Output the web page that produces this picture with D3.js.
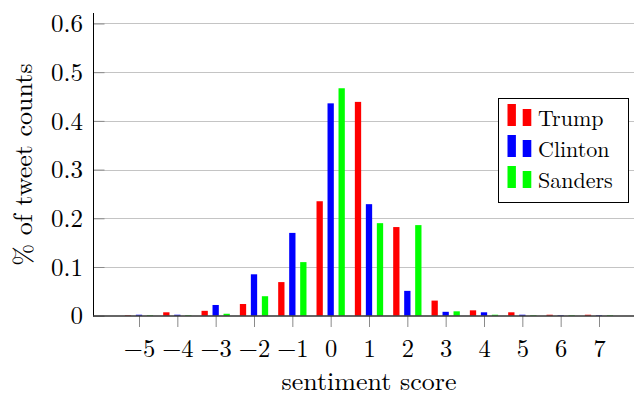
<!DOCTYPE html>
<html>
<head>
<meta charset="utf-8">
<script src="https://cdn.jsdelivr.net/npm/d3@7"></script>
<style>
  html, body { margin: 0; padding: 0; background: #fff; }
  svg { display: block; }
</style>
</head>
<body>
<svg id="chart" width="634" height="395"></svg>
<script>
// Sentiment score categories
const scores = [-5, -4, -3, -2, -1, 0, 1, 2, 3, 4, 5, 6, 7];

// Share of tweets per sentiment score, one array per candidate
const trump   = [0.001, 0.007, 0.010, 0.024, 0.069, 0.235, 0.439, 0.182, 0.031, 0.011, 0.007, 0.002, 0.002];
const clinton = [0.002, 0.002, 0.022, 0.085, 0.170, 0.436, 0.229, 0.051, 0.008, 0.007, 0.002, 0.001, 0.001];
const sanders = [0.001, 0.001, 0.004, 0.040, 0.110, 0.467, 0.190, 0.186, 0.009, 0.002, 0.001, 0.001, 0.001];

const seriesNames  = ["Trump", "Clinton", "Sanders"];
const seriesColors = ["#ff0000", "#0000ff", "#00ff00"];
const seriesValues = [trump, clinton, sanders];

const yTicks = [0, 0.1, 0.2, 0.3, 0.4, 0.5, 0.6];

const FONT = '"Latin Modern Roman", "CMU Serif", "Liberation Serif", serif';

const svg = d3.select("#chart");

// Plot area
const plotLeft = 93, plotRight = 645, plotTop = 13, plotBottom = 315.7;

const x = d3.scaleLinear().domain([-6.2, 8.2]).range([plotLeft, plotRight]);
const y = d3.scaleLinear().domain([0, 0.6215]).range([plotBottom, plotTop]);

const barW = 6.3;     // bar width in px
const barStep = 11;   // distance between bars of one group in px

// Horizontal grid lines
svg.append("g")
  .selectAll("line")
  .data(yTicks.filter(d => d > 0))
  .join("line")
  .attr("x1", plotLeft).attr("x2", 634)
  .attr("y1", d => Math.round(y(d)) + 0.5)
  .attr("y2", d => Math.round(y(d)) + 0.5)
  .attr("stroke", "#c4c4c4")
  .attr("stroke-width", 1);

// Bars
seriesValues.forEach((vals, i) => {
  svg.append("g")
    .selectAll("rect")
    .data(scores.map((s, k) => ({ s, v: vals[k] })))
    .join("rect")
    .attr("x", d => x(d.s) + (i - 1) * barStep - barW / 2)
    .attr("width", barW)
    .attr("y", d => y(d.v))
    .attr("height", d => y(0) - y(d.v))
    .attr("fill", seriesColors[i]);
});

// Y axis: tick marks inside, labels to the left
const yAxis = d3.axisLeft(y)
  .tickValues(yTicks)
  .tickSize(-11)
  .tickPadding(10.5)
  .tickFormat(d => d === 0 ? "0" : d3.format(".1f")(d));

const gy = svg.append("g")
  .attr("transform", `translate(${plotLeft + 0.5},0)`)
  .call(yAxis);
gy.select(".domain").remove();
gy.selectAll(".tick line").attr("stroke", "#8a8a8a");
gy.selectAll(".tick text")
  .style("font-family", FONT)
  .style("font-size", "25px")
  .attr("fill", "#000")
  .attr("dy", "0.33em");

// X axis: tick marks below the axis line
const xAxis = d3.axisBottom(x)
  .tickValues(scores)
  .tickSize(11)
  .tickPadding(10)
  .tickFormat(d => d < 0 ? "\u2212" + Math.abs(d) : String(d));

const gx = svg.append("g")
  .attr("transform", `translate(0,${316})`)
  .call(xAxis);
gx.select(".domain").remove();
gx.selectAll(".tick line").attr("stroke", "#8a8a8a");
gx.selectAll(".tick text")
  .style("font-family", FONT)
  .style("font-size", "24.5px")
  .attr("fill", "#000")
  .attr("dy", "0.81em");

// Axis lines
svg.append("line")
  .attr("x1", plotLeft + 0.5).attr("x2", plotLeft + 0.5)
  .attr("y1", plotTop).attr("y2", 316.5)
  .attr("stroke", "#000").attr("stroke-width", 1);
svg.append("line")
  .attr("x1", plotLeft).attr("x2", 634)
  .attr("y1", 316).attr("y2", 316)
  .attr("stroke", "#333").attr("stroke-width", 1.3);

// Axis titles
svg.append("text")
  .attr("x", (plotLeft + plotRight) / 2)
  .attr("y", 390)
  .attr("text-anchor", "middle")
  .style("font-family", FONT)
  .style("font-size", "26px")
  .text("sentiment score");

svg.append("text")
  .attr("transform", `translate(32,${(plotTop + 316) / 2}) rotate(-90)`)
  .attr("text-anchor", "middle")
  .style("font-family", FONT)
  .style("font-size", "26px")
  .text("% of tweet counts");

// Legend
const legend = svg.append("g").attr("transform", "translate(498.5,98.5)");
legend.append("rect")
  .attr("width", 130).attr("height", 104)
  .attr("fill", "#fff")
  .attr("stroke", "#000").attr("stroke-width", 1);

seriesNames.forEach((name, i) => {
  const base = 27.5 + i * 31;
  const row = legend.append("g");
  row.append("rect")
    .attr("x", 9).attr("y", base - 22).attr("width", 8.4).attr("height", 22)
    .attr("fill", seriesColors[i]);
  row.append("rect")
    .attr("x", 24.2).attr("y", base - 17).attr("width", 8.6).attr("height", 17)
    .attr("fill", seriesColors[i]);
  row.append("text")
    .attr("x", 39.5).attr("y", base)
    .style("font-family", FONT)
    .style("font-size", "22px")
    .text(name);
});
</script>
</body>
</html>
